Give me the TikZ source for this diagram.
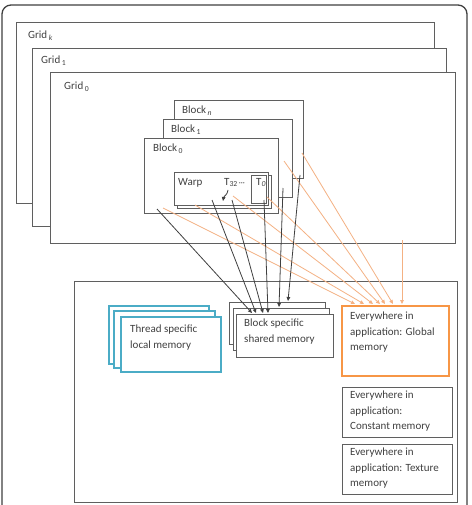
\documentclass[tikz,border=0pt]{standalone}
\usepackage{fontspec}
\setmainfont{Carlito}
\usetikzlibrary{arrows.meta}
\definecolor{ln}{HTML}{5F5F5F}
\definecolor{txt}{HTML}{404040}
\definecolor{orl}{HTML}{F4B183}
\definecolor{orb}{HTML}{F79646}
\definecolor{cyb}{HTML}{4BACC6}
\tikzset{
  panel/.style={draw=ln, line width=0.9pt, fill=white, anchor=north west, inner sep=0pt, outer sep=0pt},
  lbl/.style={anchor=base west, inner sep=0pt, text=txt, font=\fontsize{11}{15.3}\selectfont},
  memtxt/.style={anchor=north west, inner sep=0pt, text=txt, align=left, font=\fontsize{11}{15.3}\selectfont},
  blk/.style={draw=txt, line width=0.8pt, -{Triangle[length=4pt,width=3.6pt]}},
  org/.style={draw=orl, line width=0.8pt, -{Triangle[length=4pt,width=3.6pt]}},
}
\newcommand{\sbi}[1]{\kern1.5pt\textsubscript{\textit{#1}}}
\newcommand{\sbn}[1]{\kern1.5pt\textsubscript{#1}}
\begin{document}
\begin{tikzpicture}[x=1pt,y=-1pt]
\clip (0,0) rectangle (471,505);
\fill[white] (0,0) rectangle (471,505);
% outer frame
\draw[draw=txt, line width=1.3pt, rounded corners=9pt] (2,5) rectangle (467,540);
% grids
\node[panel, minimum width=418, minimum height=181] (gridk) at (16,22) {};
\node[panel, minimum width=414, minimum height=178] (grid1) at (32,48) {};
\node[panel, minimum width=405, minimum height=171] (grid0) at (50,72) {};
\node[lbl] (gridklbl) at (28,39) {Grid\sbi{k}};
\node[lbl] (grid1lbl) at (41,64) {Grid\sbn{1}};
\node[lbl] (grid0lbl) at (64,90) {Grid\sbn{0}};
% blocks
\node[panel, minimum width=129, minimum height=78] (blockn) at (174,100) {};
\node[panel, minimum width=129, minimum height=78] (block1) at (163,119) {};
\node[panel, minimum width=134, minimum height=75] (block0) at (144,138) {};
\node[lbl] (blocknlbl) at (182,114) {Block\sbi{n}};
\node[lbl] (block1lbl) at (171,133) {Block\sbn{1}};
\node[lbl] (block0lbl) at (153,152) {Block\sbn{0}};
% warp
\node[panel, minimum width=94, minimum height=33] (warpb) at (177,175) {};
\node[panel, minimum width=94, minimum height=33] (warp) at (174,172) {};
\node[panel, minimum width=15, minimum height=28] (tzero) at (251,175) {};
\node[lbl] (warplbl) at (178,185) {Warp};
\node[lbl] (t32lbl) at (224,185) {T\textsubscript{32}\kern1pt{\fontsize{8}{8}\selectfont\textperiodcentered\textperiodcentered\textperiodcentered}};
\node[lbl] (t0lbl) at (256,185) {T\textsubscript{\textit{0}}};
\coordinate (t32s) at (228,190);
\coordinate (t32e) at (223,201);
\draw[blk] (t32s) to[out=-95,in=80] (t32e);
% device
\node[panel, minimum width=383, minimum height=221] (device) at (74,281) {};
% local memory
\tikzset{cyn/.style={panel, draw=cyb, line width=2pt}}
\node[cyn, minimum width=100, minimum height=58] (loc3) at (109,306) {};
\node[cyn, minimum width=101, minimum height=57] (loc2) at (114,311) {};
\node[cyn, minimum width=100, minimum height=55] (loc1) at (121,317) {};
\node[memtxt] (loctxt) at (130,325) {Thread specific\\local memory};
% shared memory
\node[panel, minimum width=96, minimum height=42] (sh3) at (229,302) {};
\node[panel, minimum width=96, minimum height=42] (sh2) at (233,308) {};
\node[panel, minimum width=97, minimum height=43] (sh1) at (236,314) {};
\node[memtxt] (shtxt) at (244,319) {Block specific\\shared memory};
% global / constant / texture
\node[panel, draw=orb, line width=2.2pt, minimum width=107, minimum height=70] (glob) at (342,306) {};
\node[memtxt] (globtxt) at (350,312) {Everywhere in\\application: Global\\memory};
\node[panel, minimum width=110, minimum height=50] (const) at (342,387) {};
\node[memtxt] (consttxt) at (350,391) {Everywhere in\\application:\\Constant memory};
\node[panel, minimum width=110, minimum height=50] (tex) at (342,444) {};
\node[memtxt] (textxt) at (350,448) {Everywhere in\\application: Texture\\memory};
% black connector coordinates
\coordinate (ks1) at (157,209); \coordinate (ke1) at (252,313);
\coordinate (ks2) at (212,200); \coordinate (ke2) at (256,313);
\coordinate (ks3) at (232,200); \coordinate (ke3) at (263,313);
\coordinate (ks4) at (264,200); \coordinate (ke4) at (268,313);
\coordinate (ks5) at (283,188); \coordinate (ke5) at (279,307);
\coordinate (ks6) at (300,175); \coordinate (ke6) at (288,301);
% orange connector coordinates
\coordinate (os1) at (163,208); \coordinate (oe1) at (355,304);
\coordinate (os2) at (195,205); \coordinate (oe2) at (364,304);
\coordinate (os3) at (233,196); \coordinate (oe3) at (373,304);
\coordinate (os4) at (267,197); \coordinate (oe4) at (380,304);
\coordinate (os5) at (284,161); \coordinate (oe5) at (385,304);
\coordinate (os6) at (302,153); \coordinate (oe6) at (393,304);
\coordinate (os7) at (402,240); \coordinate (oe7) at (402,304);
\foreach \i in {1,...,7} \draw[org] (os\i) -- (oe\i);
\foreach \i in {1,...,6} \draw[blk] (ks\i) -- (ke\i);
\end{tikzpicture}
\end{document}
